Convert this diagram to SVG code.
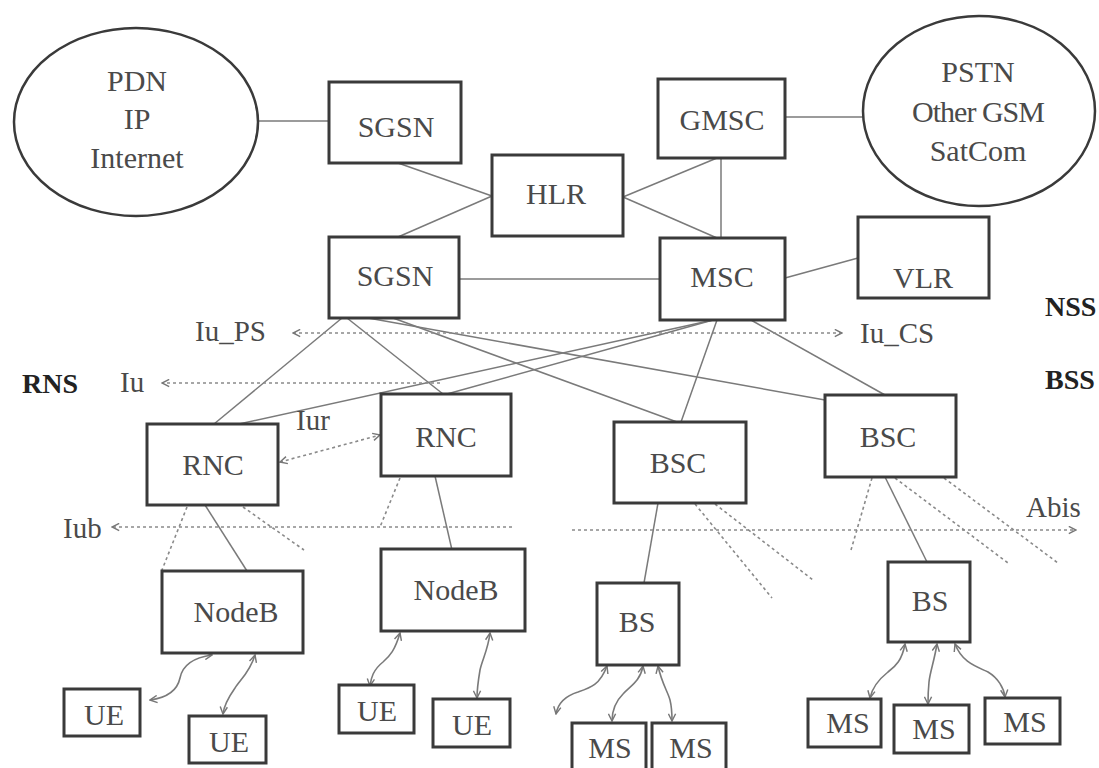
<svg xmlns="http://www.w3.org/2000/svg" width="1099" height="768" viewBox="0 0 1099 768">
<style>
.box{fill:#fff;stroke:#3a3a3a;stroke-width:3}
.ell{fill:#fff;stroke:#3a3a3a;stroke-width:2.5}
.t{font-family:"Liberation Serif","Times New Roman",serif;font-size:30px;fill:#4a4a4a;text-anchor:middle}
.l{font-family:"Liberation Serif","Times New Roman",serif;font-size:29px;fill:#4a4a4a}
.b{font-family:"Liberation Serif","Times New Roman",serif;font-size:28px;font-weight:bold;fill:#222}
.c{stroke:#7a7a7a;stroke-width:1.5;fill:none}
.d{stroke:#8a8a8a;stroke-width:1.6;fill:none;stroke-dasharray:3 3}
.w{stroke:#7a7a7a;stroke-width:1.6;fill:none;marker-start:url(#ah);marker-end:url(#ah)}
</style>
<defs>
<marker id="ah" viewBox="0 0 10 10" refX="9" refY="5" markerWidth="9" markerHeight="9" markerUnits="userSpaceOnUse" orient="auto-start-reverse">
<path d="M1,1 L9,5 L1,9" fill="none" stroke="#777" stroke-width="1.6"/>
</marker>
</defs>
<rect width="1099" height="768" fill="#fff"/>
<g id="connectors">
<line class="c" x1="258" y1="121" x2="328" y2="121"/>
<line class="c" x1="398" y1="163" x2="492" y2="196"/>
<line class="c" x1="398" y1="237" x2="492" y2="196"/>
<line class="c" x1="785" y1="117" x2="863" y2="117"/>
<line class="c" x1="623" y1="197" x2="717" y2="158"/>
<line class="c" x1="623" y1="197" x2="717" y2="238"/>
<line class="c" x1="721" y1="158" x2="721" y2="238"/>
<line class="c" x1="459" y1="279" x2="660" y2="279"/>
<line class="c" x1="785" y1="278" x2="858" y2="258"/>
<line class="c" x1="342" y1="318" x2="214" y2="424"/>
<line class="c" x1="347" y1="318" x2="443" y2="394"/>
<line class="c" x1="368" y1="318" x2="825" y2="400"/>
<line class="c" x1="393" y1="318" x2="677" y2="422"/>
<line class="c" x1="713" y1="320" x2="239" y2="424"/>
<line class="c" x1="713" y1="320" x2="447" y2="394"/>
<line class="c" x1="717" y1="320" x2="681" y2="422"/>
<line class="c" x1="751" y1="320" x2="885" y2="395"/>
<line class="c" x1="205" y1="505" x2="247" y2="571"/>
<line class="c" x1="435" y1="476" x2="452" y2="550"/>
<line class="c" x1="658" y1="503" x2="644" y2="583"/>
<line class="c" x1="885" y1="477" x2="927" y2="562"/>
<path class="d" d="M293,333 H842" marker-start="url(#ah)" marker-end="url(#ah)"/>
<path class="d" d="M440,383 H162" marker-end="url(#ah)"/>
<path class="d" d="M280,462 L380,435" marker-start="url(#ah)" marker-end="url(#ah)"/>
<path class="d" d="M512,527 H112" marker-end="url(#ah)"/>
<path class="d" d="M572,530 H1076" marker-end="url(#ah)"/>
<line class="d" x1="187" y1="507" x2="162" y2="570"/>
<line class="d" x1="243" y1="507" x2="304" y2="550"/>
<line class="d" x1="400" y1="478" x2="380" y2="527"/>
<line class="d" x1="695" y1="504" x2="772" y2="598"/>
<line class="d" x1="715" y1="504" x2="813" y2="580"/>
<line class="d" x1="872" y1="478" x2="851" y2="550"/>
<line class="d" x1="895" y1="478" x2="1008" y2="563"/>
<line class="d" x1="944" y1="478" x2="1058" y2="563"/>
<path class="w" d="M212,655 C190,658 182,668 180,678 C177,692 165,698 150,700"/>
<path class="w" d="M255,655 C250,672 240,680 235,688 C228,698 224,705 223,714"/>
<path class="w" d="M400,633 C395,650 390,656 383,662 C373,670 371,678 370,686"/>
<path class="w" d="M490,633 C488,650 482,660 480,670 C478,682 477,690 477,698"/>
<path class="w" d="M607,666 C600,685 590,688 578,692 C565,696 558,703 556,714"/>
<path class="w" d="M643,666 C640,682 630,686 623,694 C615,702 612,710 612,721"/>
<path class="w" d="M658,666 C662,684 668,692 670,700 C672,708 672,714 672,721"/>
<path class="w" d="M905,644 C902,660 896,666 888,672 C878,680 872,688 870,698"/>
<path class="w" d="M937,644 C934,662 930,672 929,682 C928,692 928,698 928,704"/>
<path class="w" d="M955,644 C962,662 975,666 988,672 C998,678 1004,688 1005,697"/>
</g>
<g id="pdn"><ellipse class="ell" cx="136" cy="122" rx="122" ry="94"/>
<text class="t" x="137" y="91">PDN</text><text class="t" x="137" y="129">IP</text><text class="t" x="137" y="168">Internet</text></g>
<g id="pstn"><ellipse class="ell" cx="979" cy="111" rx="116" ry="95"/>
<text class="t" x="978" y="82">PSTN</text><text class="t" x="978" y="122" letter-spacing="-1">Other GSM</text><text class="t" x="978" y="161">SatCom</text></g>
<g id="sgsn1"><rect class="box" x="329" y="82" width="132" height="81"/><text class="t" x="396" y="137">SGSN</text></g>
<g id="gmsc"><rect class="box" x="658" y="79" width="127" height="79"/><text class="t" x="722" y="130">GMSC</text></g>
<g id="hlr"><rect class="box" x="492" y="155" width="131" height="81"/><text class="t" x="556" y="204">HLR</text></g>
<g id="sgsn2"><rect class="box" x="329" y="237" width="130" height="81"/><text class="t" x="395" y="286">SGSN</text></g>
<g id="msc"><rect class="box" x="660" y="238" width="125" height="82"/><text class="t" x="722" y="287">MSC</text></g>
<g id="vlr"><rect class="box" x="858" y="217" width="131" height="81"/><text class="t" x="923" y="288">VLR</text></g>
<g id="rnc1"><rect class="box" x="147" y="424" width="131" height="81"/><text class="t" x="213" y="475">RNC</text></g>
<g id="rnc2"><rect class="box" x="381" y="394" width="130" height="82"/><text class="t" x="446" y="447">RNC</text></g>
<g id="bsc1"><rect class="box" x="614" y="422" width="132" height="81"/><text class="t" x="678" y="473">BSC</text></g>
<g id="bsc2"><rect class="box" x="825" y="395" width="131" height="82"/><text class="t" x="888" y="447">BSC</text></g>
<g id="nodeb1"><rect class="box" x="162" y="571" width="141" height="82"/><text class="t" x="236" y="622">NodeB</text></g>
<g id="nodeb2"><rect class="box" x="381" y="549" width="144" height="82"/><text class="t" x="456" y="600">NodeB</text></g>
<g id="bs1"><rect class="box" x="597" y="583" width="82" height="82"/><text class="t" x="637" y="632">BS</text></g>
<g id="bs2"><rect class="box" x="888" y="562" width="82" height="80"/><text class="t" x="930" y="611">BS</text></g>
<g id="ue1"><rect class="box" x="64" y="689" width="76" height="47"/><text class="t" x="104" y="725">UE</text></g>
<g id="ue2"><rect class="box" x="189" y="716" width="77" height="47"/><text class="t" x="229" y="752">UE</text></g>
<g id="ue3"><rect class="box" x="339" y="685" width="75" height="48"/><text class="t" x="377" y="721">UE</text></g>
<g id="ue4"><rect class="box" x="433" y="699" width="77" height="48"/><text class="t" x="472" y="735">UE</text></g>
<g id="ms1"><rect class="box" x="572" y="723" width="74" height="55"/><text class="t" x="610" y="758">MS</text></g>
<g id="ms2"><rect class="box" x="652" y="723" width="74" height="55"/><text class="t" x="691" y="758">MS</text></g>
<g id="ms3"><rect class="box" x="808" y="699" width="73" height="48"/><text class="t" x="848" y="733">MS</text></g>
<g id="ms4"><rect class="box" x="894" y="705" width="75" height="48"/><text class="t" x="934" y="739">MS</text></g>
<g id="ms5"><rect class="box" x="985" y="698" width="75" height="46"/><text class="t" x="1025" y="732">MS</text></g>
<g id="labels">
<text class="l" x="195" y="341">Iu_PS</text>
<text class="l" x="860" y="343">Iu_CS</text>
<text class="l" x="120" y="392">Iu</text>
<text class="l" x="296" y="430">Iur</text>
<text class="l" x="63" y="538">Iub</text>
<text class="l" x="1026" y="517">Abis</text>
<text class="b" x="22" y="393">RNS</text>
<text class="b" x="1045" y="316">NSS</text>
<text class="b" x="1045" y="389">BSS</text>
</g>
</svg>
